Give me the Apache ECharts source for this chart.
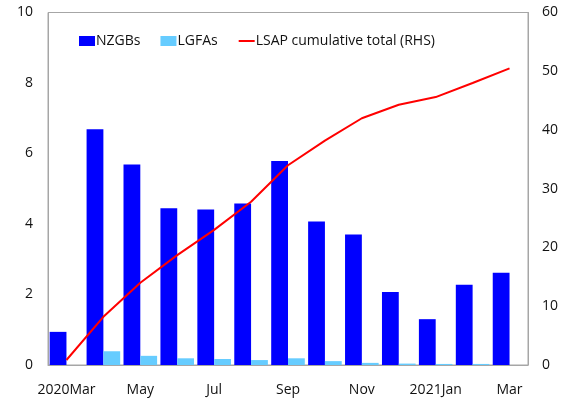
<!DOCTYPE html>
<html>
<head>
<meta charset="utf-8">
<script src="https://cdn.jsdelivr.net/npm/echarts@6/dist/echarts.min.js"></script>
<style>
  html, body { margin: 0; padding: 0; background: #fff; }
  #chart { width: 570px; height: 401px; }
</style>
</head>
<body>
<div id="chart"></div>
<script>
const months = ['2020Mar', 'Apr', 'May', 'Jun', 'Jul', 'Aug', 'Sep', 'Oct', 'Nov', 'Dec', '2021Jan', 'Feb', 'Mar'];
const nzgbs = [0.94, 6.69, 5.69, 4.45, 4.41, 4.58, 5.79, 4.07, 3.70, 2.07, 1.30, 2.28, 2.62];
const lgfas = [0, 0.39, 0.26, 0.19, 0.17, 0.14, 0.19, 0.11, 0.06, 0.04, 0.03, 0.03, 0];
const lsapTotal = [0.85, 8.2, 14.0, 18.7, 23.0, 27.8, 34.0, 38.2, 42.0, 44.3, 45.6, 48.0, 50.5];

const font = '"Open Sans", "Noto Sans", sans-serif';
const axisGray = '#a6a6a6';

const chart = echarts.init(document.getElementById('chart'));

const option = {
  animation: false,
  textStyle: { fontFamily: font },
  grid: {
    left: 48,
    right: 42,
    top: 12.5,
    bottom: 36,
    show: true,
    borderColor: axisGray,
    borderWidth: 1
  },
  legend: {
    left: 74,
    top: 29,
    itemWidth: 16,
    itemHeight: 10,
    itemGap: 20,
    textStyle: { fontSize: 14, color: '#111', fontFamily: font, padding: [0, 0, 0, -4] },
    data: [
      { name: 'NZGBs', icon: 'rect' },
      { name: 'LGFAs', icon: 'rect' },
      { name: 'LSAP cumulative total (RHS)', itemStyle: { opacity: 0 } }
    ]
  },
  xAxis: {
    type: 'category',
    data: months,
    axisLine: { lineStyle: { color: axisGray } },
    axisTick: { show: false },
    axisLabel: { interval: 1, fontSize: 14, color: '#111', margin: 18 }
  },
  yAxis: [
    {
      type: 'value',
      min: 0,
      max: 10,
      interval: 2,
      splitLine: { show: false },
      axisLine: { show: true, lineStyle: { color: axisGray } },
      axisLabel: { fontSize: 14, color: '#111', margin: 15 }
    },
    {
      type: 'value',
      min: 0,
      max: 60,
      interval: 10,
      splitLine: { show: false },
      axisLine: { show: true, lineStyle: { color: axisGray } },
      axisLabel: { fontSize: 14, color: '#111', margin: 14 }
    }
  ],
  series: [
    {
      name: 'NZGBs',
      type: 'bar',
      data: nzgbs,
      barGap: '0%',
      barCategoryGap: '9%',
      itemStyle: { color: '#0000ff' }
    },
    {
      name: 'LGFAs',
      type: 'bar',
      data: lgfas,
      itemStyle: { color: '#66ccff' }
    },
    {
      name: 'LSAP cumulative total (RHS)',
      type: 'line',
      yAxisIndex: 1,
      data: lsapTotal,
      symbol: 'none',
      lineStyle: { color: '#ff0000', width: 2 },
      itemStyle: { color: '#ff0000' }
    }
  ]
};

chart.setOption(option);
</script>
</body>
</html>
